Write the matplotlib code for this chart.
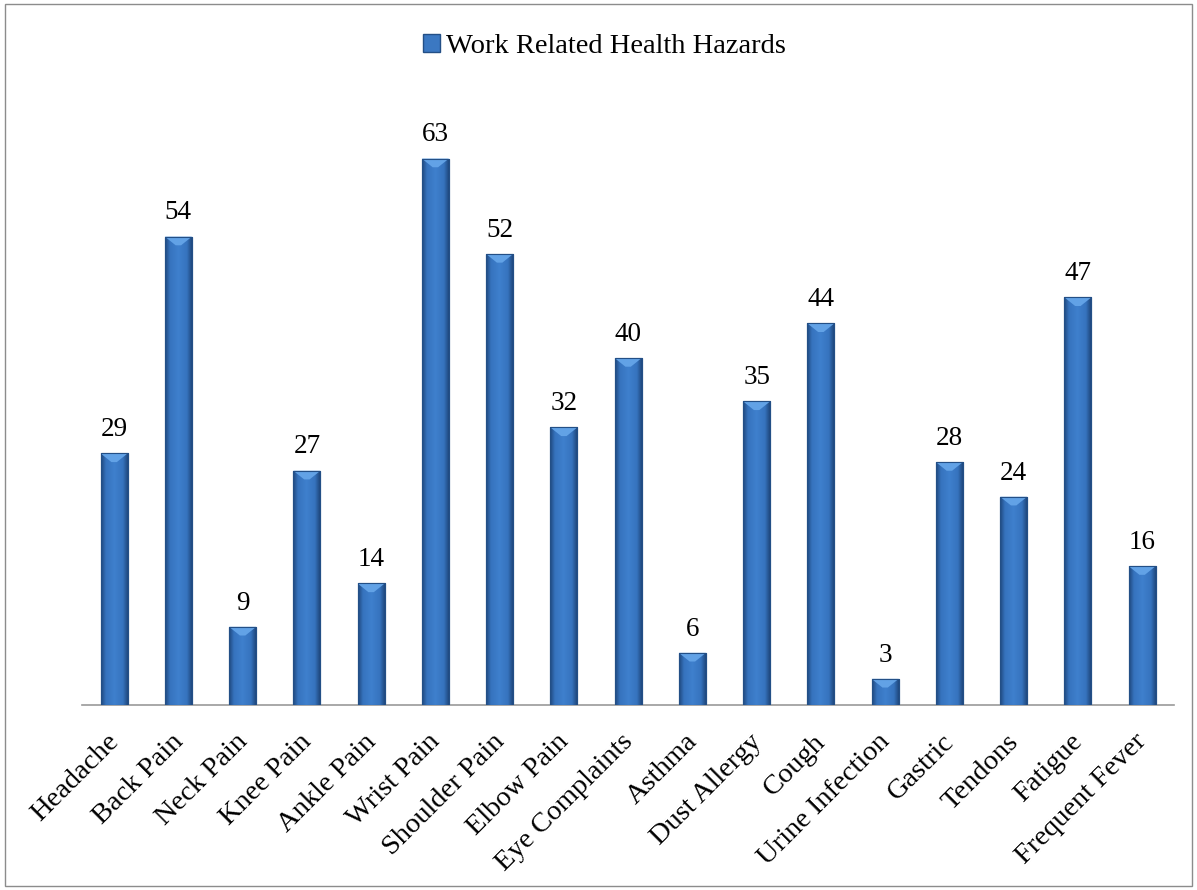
import numpy as np
import matplotlib
matplotlib.use("Agg")
from matplotlib import pyplot as plt
from matplotlib.patches import Polygon, Rectangle
from matplotlib.colors import LinearSegmentedColormap
from matplotlib.transforms import ScaledTranslation

plt.rcParams["font.family"] = ["Liberation Serif", "DejaVu Serif"]

categories = ["Headache", "Back Pain", "Neck Pain", "Knee Pain", "Ankle Pain",
              "Wrist Pain", "Shoulder Pain", "Elbow Pain", "Eye Complaints",
              "Asthma", "Dust Allergy", "Cough", "Urine Infection", "Gastric",
              "Tendons", "Fatigue", "Frequent Fever"]
values = [29, 54, 9, 27, 14, 63, 52, 32, 40, 6, 35, 44, 3, 28, 24, 47, 16]
series_name = "Work Related Health Hazards"

fig = plt.figure(figsize=(11.97, 8.9), dpi=100)
ax = fig.add_axes([0.0685, 0.208, 0.9125, 0.682])

x = np.arange(len(categories))
w = 0.42
bars = ax.bar(x, values, width=w, color="#3b78c2", edgecolor="#234f86",
              linewidth=0.8, zorder=2)

# horizontal shading across each bar: darker edges, flat middle
shade = LinearSegmentedColormap.from_list(
    "shade", [(0.0, "#20497f"), (0.18, "#3673be"), (0.5, "#3f80cd"),
              (0.82, "#3673be"), (1.0, "#20497f")])
grad = np.linspace(0, 1, 64).reshape(1, -1)
for xi, v, b in zip(x, values, bars):
    im = ax.imshow(grad, cmap=shade, aspect="auto", zorder=3,
                   extent=[xi - w / 2, xi + w / 2, 0, v])
    im.set_clip_path(b)
    # light bevel on top
    bev = 1.0
    ax.add_patch(Polygon([(xi - w / 2, v), (xi + w / 2, v),
                          (xi + w * 0.1, v - bev), (xi - w * 0.1, v - bev)],
                         closed=True, facecolor="#62a2e6", edgecolor="none",
                         zorder=4))
    ax.add_patch(Rectangle((xi - w / 2, 0), w, v, facecolor="none",
                           edgecolor="#234f86", linewidth=0.8, zorder=5))
    ax.text(xi, v + 1.3, str(v), ha="center", va="bottom", fontsize=19.5,
            color="black", zorder=6)

ax.set_xlim(-0.5, len(categories) - 0.5)
ax.set_ylim(0, 70)
ax.set_yticks([])
ax.set_xticks(x)
ax.set_xticklabels(categories, rotation=45, ha="right",
                   rotation_mode="anchor", fontsize=20.5)
ax.tick_params(axis="x", length=0, pad=19)
shift = ScaledTranslation(-8 / 100, 2 / 100, fig.dpi_scale_trans)
for lbl in ax.get_xticklabels():
    lbl.set_transform(lbl.get_transform() + shift)
for side in ["top", "left", "right"]:
    ax.spines[side].set_visible(False)
ax.spines["bottom"].set_color("#9a9a9a")
ax.spines["bottom"].set_linewidth(1.2)

handle = Rectangle((0, 0), 1, 1, facecolor="#3b78c2", edgecolor="#234f86")
fig.legend([handle], [series_name], loc="center", bbox_to_anchor=(0.505, 0.948),
           frameon=False, fontsize=20.5, handlelength=0.6, handleheight=0.6,
           handletextpad=0.2)

# thin frame round the whole chart
fig.add_artist(Rectangle((0.004, 0.004), 0.992, 0.992, transform=fig.transFigure,
                         facecolor="none", edgecolor="#8c8c8c", linewidth=1.0))

fig.savefig("out.png", dpi=100)
